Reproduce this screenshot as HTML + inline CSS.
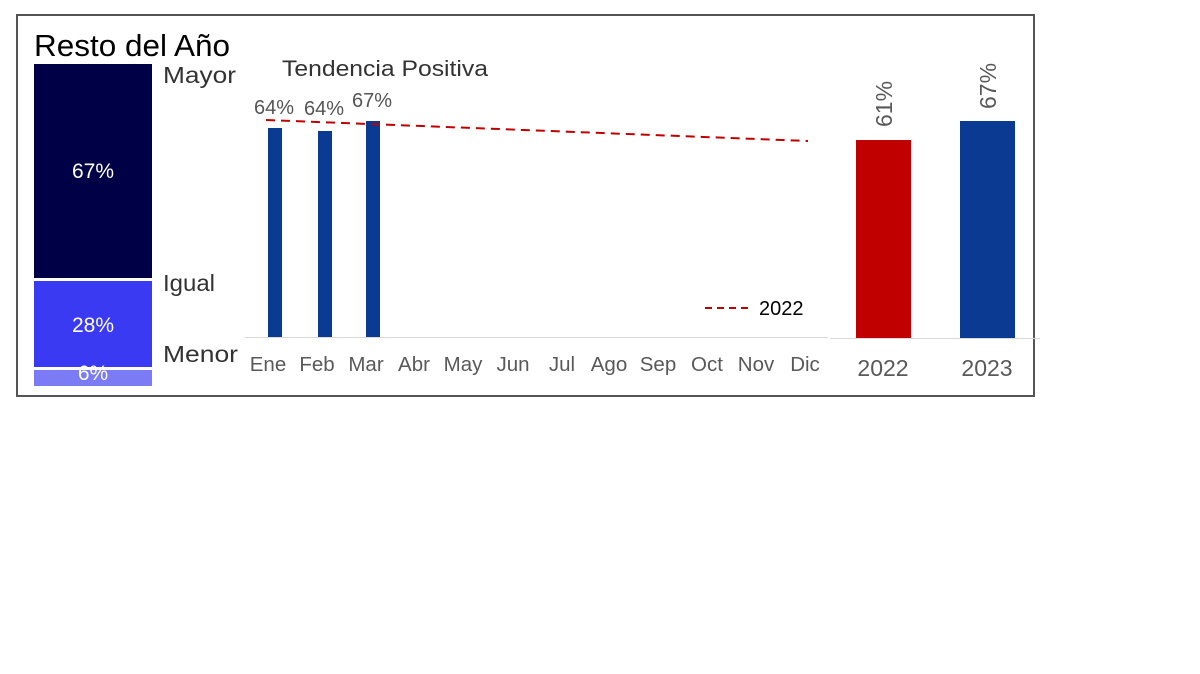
<!DOCTYPE html>
<html><head><meta charset="utf-8"><style>
html,body{margin:0;padding:0;background:#fff;width:1200px;height:674px;overflow:hidden}
svg{display:block}
</style></head><body>
<svg width="1200" height="674" xmlns="http://www.w3.org/2000/svg" font-family="Liberation Sans, Arial, sans-serif">
<rect x="17" y="15" width="1017" height="381" fill="#fff" stroke="#555" stroke-width="2"/>
<text x="34" y="56" font-size="31" fill="#000" textLength="196" lengthAdjust="spacingAndGlyphs">Resto del Año</text>
<rect x="34" y="64" width="118" height="214" fill="#000046"/>
<rect x="34" y="281" width="118" height="86" fill="#3a3af2"/>
<rect x="34" y="370" width="118" height="16" fill="#7b7bf5"/>
<text x="93" y="178" font-size="21" fill="#fff" text-anchor="middle">67%</text>
<text x="93" y="332" font-size="21" fill="#fff" text-anchor="middle">28%</text>
<text x="93" y="380" font-size="21" fill="#fff" text-anchor="middle">6%</text>
<text x="163" y="83" font-size="23" fill="#333" textLength="73" lengthAdjust="spacingAndGlyphs">Mayor</text>
<text x="163" y="291" font-size="23" fill="#333" textLength="52" lengthAdjust="spacingAndGlyphs">Igual</text>
<text x="163" y="362" font-size="23" fill="#333" textLength="75" lengthAdjust="spacingAndGlyphs">Menor</text>
<text x="282" y="76" font-size="22" fill="#333" textLength="206" lengthAdjust="spacingAndGlyphs">Tendencia Positiva</text>
<line x1="245" y1="337.5" x2="828" y2="337.5" stroke="#d9d9d9" stroke-width="1"/>
<rect x="268" y="128" width="14" height="209" fill="#0a3a92"/>
<rect x="318" y="131" width="14" height="206" fill="#0a3a92"/>
<rect x="366" y="121" width="14" height="216" fill="#0a3a92"/>
<g font-size="20" fill="#555" text-anchor="middle">
<text x="274" y="114">64%</text><text x="324" y="115">64%</text><text x="372" y="107">67%</text>
</g>
<line x1="266" y1="120" x2="808" y2="141" stroke="#c00000" stroke-width="2" stroke-dasharray="9,6"/>
<line x1="705" y1="308" x2="753" y2="308" stroke="#c00000" stroke-width="2" stroke-dasharray="7,5"/>
<text x="759" y="315" font-size="20" fill="#000">2022</text>
<g font-size="20.5" fill="#595959" text-anchor="middle">
<text x="268" y="371">Ene</text><text x="317" y="371">Feb</text><text x="366" y="371">Mar</text>
<text x="414" y="371">Abr</text><text x="463" y="371">May</text><text x="513" y="371">Jun</text>
<text x="562" y="371">Jul</text><text x="609" y="371">Ago</text><text x="658" y="371">Sep</text>
<text x="707" y="371">Oct</text><text x="756" y="371">Nov</text><text x="805" y="371">Dic</text>
</g>
<line x1="830" y1="338.5" x2="1040" y2="338.5" stroke="#d9d9d9" stroke-width="1"/>
<rect x="856" y="140" width="55" height="198" fill="#c00000"/>
<rect x="960" y="121" width="55" height="217" fill="#0a3a92"/>
<g font-size="23" fill="#595959" text-anchor="middle">
<text x="883" y="376">2022</text><text x="987" y="376">2023</text>
</g>
<text transform="translate(892,104) rotate(-90)" font-size="23" fill="#595959" text-anchor="middle">61%</text>
<text transform="translate(996,86) rotate(-90)" font-size="23" fill="#595959" text-anchor="middle">67%</text>
</svg>
</body></html>
